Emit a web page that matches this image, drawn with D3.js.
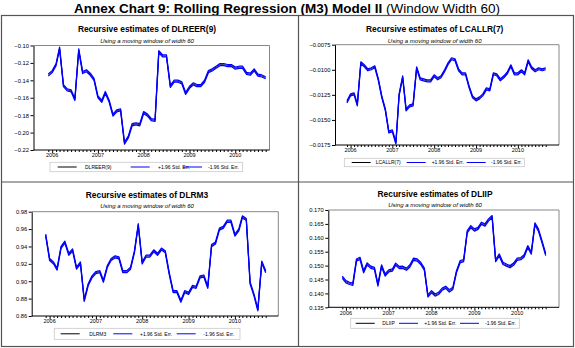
<!DOCTYPE html>
<html>
<head>
<meta charset="utf-8">
<script src="https://cdn.jsdelivr.net/npm/d3@7"></script>
<style>
  html, body { margin: 0; padding: 0; background: #fff; }
  svg { display: block; font-family: "Liberation Sans", Arial, sans-serif; }
</style>
</head>
<body>
<svg id="chart" width="575" height="348"></svg>
<script>
// monthly observations, 2005M12 .. 2010M09
const firstMonth = new Date(2005, 11, 1)
const lastMonth = new Date(2010, 8, 1)
const yearLabels = ['2006', '2007', '2008', '2009', '2010']
const legendLabels = ['+1.96 Std. Err.', '-1.96 Std. Err.']

const dlreer = [-0.134, -0.130, -0.122, -0.103, -0.146, -0.151, -0.152, -0.162, -0.105, -0.131,
  -0.129, -0.133, -0.139, -0.159, -0.164, -0.154, -0.164, -0.180, -0.175, -0.174,
  -0.212, -0.205, -0.191, -0.190, -0.191, -0.177, -0.180, -0.185, -0.186, -0.107,
  -0.112, -0.112, -0.147, -0.141, -0.141, -0.143, -0.155, -0.148, -0.144, -0.146,
  -0.146, -0.141, -0.130, -0.128, -0.125, -0.122, -0.122, -0.123, -0.123, -0.126,
  -0.125, -0.125, -0.132, -0.133, -0.128, -0.134, -0.135, -0.137]

const lcallr = [-0.0132, -0.0125, -0.0124, -0.0135, -0.0093, -0.0096, -0.0100, -0.0099, -0.0097, -0.0110,
  -0.0127, -0.0140, -0.0162, -0.0161, -0.0173, -0.0125, -0.0107, -0.0140, -0.0136, -0.0135,
  -0.0098, -0.0109, -0.0110, -0.0111, -0.0111, -0.0106, -0.0109, -0.0107, -0.0101, -0.0094,
  -0.0089, -0.0090, -0.0100, -0.0104, -0.0104, -0.0117, -0.0127, -0.0130, -0.0128, -0.0125,
  -0.0119, -0.0120, -0.0104, -0.0105, -0.0110, -0.0107, -0.0103, -0.0096, -0.0104, -0.0104,
  -0.0101, -0.0104, -0.0091, -0.0098, -0.0101, -0.0099, -0.0100, -0.0099]

const dlrm3 = [0.953, 0.925, 0.921, 0.914, 0.939, 0.945, 0.931, 0.936, 0.915, 0.921,
  0.878, 0.896, 0.905, 0.910, 0.911, 0.900, 0.917, 0.925, 0.928, 0.927,
  0.911, 0.911, 0.915, 0.934, 0.965, 0.921, 0.929, 0.929, 0.935, 0.931,
  0.937, 0.934, 0.909, 0.888, 0.888, 0.877, 0.888, 0.886, 0.894, 0.893,
  0.905, 0.906, 0.893, 0.941, 0.944, 0.960, 0.962, 0.969, 0.969, 0.953,
  0.959, 0.974, 0.971, 0.898, 0.884, 0.867, 0.922, 0.911]

const dliip = [0.1458, 0.1442, 0.1436, 0.1433, 0.1520, 0.1526, 0.1478, 0.1506, 0.1494, 0.1490,
  0.1430, 0.1499, 0.1466, 0.1481, 0.1484, 0.1505, 0.1493, 0.1494, 0.1487, 0.1499,
  0.1523, 0.1520, 0.1508, 0.1487, 0.1391, 0.1406, 0.1394, 0.1400, 0.1415, 0.1422,
  0.1409, 0.1418, 0.1478, 0.1514, 0.1518, 0.1622, 0.1640, 0.1628, 0.1634, 0.1652,
  0.1646, 0.1664, 0.1676, 0.1518, 0.1538, 0.1508, 0.1502, 0.1496, 0.1505, 0.1523,
  0.1525, 0.1535, 0.1568, 0.1545, 0.1650, 0.1628, 0.1585, 0.1540]

// standard errors of the rolling estimates (bands are +/- 1.96 se)
const seDlreer = 0.0006
const seLcallr = 0.00005
const seDlrm3 = 0.0006
const seDliip = 0.0002

const months = d3.timeMonth.range(firstMonth, d3.timeMonth.offset(lastMonth, 1))

const panels = [
  {
    name: 'DLREER(9)', values: dlreer, se: seDlreer,
    yDomain: [-0.22, -0.10], yStep: 0.02, fmt: '.2f',
    frame: { l: 33.5, r: 269.5, t: 45.5, b: 150 }, xRange: [48.3, 265.7],
    titleX: 147, titleY: 32, subY: 42.5,
    legend: { x: 50, y: 162.3, w: 192.7, h: 9.4, items: [57.7, 85, 130.7, 158, 183, 208] },
  },
  {
    name: 'LCALLR(7)', values: lcallr, se: seLcallr,
    yDomain: [-0.0175, -0.0075], yStep: 0.0025, fmt: '.4f',
    frame: { l: 335, r: 559, t: 44.7, b: 145 }, xRange: [347, 545.7],
    titleX: 434.7, titleY: 32, subY: 42.5,
    legend: { x: 344.3, y: 158.3, w: 180, h: 8.4, items: [351.7, 375.7, 406.7, 431.7, 466.7, 491] },
  },
  {
    name: 'DLRM3', values: dlrm3, se: seDlrm3,
    yDomain: [0.86, 0.98], yStep: 0.02, fmt: '.2f',
    frame: { l: 31.7, r: 278.3, t: 211.7, b: 316 }, xRange: [45.7, 265.7],
    titleX: 147, titleY: 197.5, subY: 207.5,
    legend: { x: 54.3, y: 328.3, w: 185.7, h: 11, items: [60.7, 89.3, 113.3, 140, 176.7, 203.3] },
  },
  {
    name: 'DLIIP', values: dliip, se: seDliip,
    yDomain: [0.135, 0.170], yStep: 0.005, fmt: '.3f',
    frame: { l: 328.3, r: 559, t: 210, b: 307.3 }, xRange: [342.3, 545.7],
    titleX: 435, titleY: 197, subY: 206.5,
    legend: { x: 350.7, y: 318.3, w: 168.6, h: 10, items: [355.7, 382.3, 399, 424.3, 460, 485] },
  },
]

const svg = d3.select('#chart')

// main title
const title = svg.append('text')
  .attr('x', 287)
  .attr('y', 12.5)
  .attr('text-anchor', 'middle')
  .attr('font-size', 13.5)
title.append('tspan').attr('font-weight', 'bold').text('Annex Chart 9: Rolling Regression (M3) Model II')
title.append('tspan').text(' (Window Width 60)')

// outer box and dividers
const gridColor = '#555'
svg.append('rect')
  .attr('x', 1.5).attr('y', 15.5).attr('width', 572).attr('height', 331)
  .attr('fill', 'none').attr('stroke', gridColor).attr('stroke-width', 1.2)
svg.append('line')
  .attr('x1', 298.5).attr('x2', 298.5).attr('y1', 15.5).attr('y2', 346.5)
  .attr('stroke', gridColor).attr('stroke-width', 1.2)
svg.append('line')
  .attr('x1', 1.5).attr('x2', 573.5).attr('y1', 182).attr('y2', 182)
  .attr('stroke', gridColor).attr('stroke-width', 1.2)

const blue = '#0000ff'

panels.forEach((p) => {
  const { frame } = p
  const g = svg.append('g')

  const x = d3.scaleTime().domain([firstMonth, lastMonth]).range(p.xRange)
  const y = d3.scaleLinear().domain(p.yDomain).range([frame.b, frame.t])

  g.append('text')
    .attr('x', p.titleX).attr('y', p.titleY)
    .attr('text-anchor', 'middle')
    .attr('font-size', 8.4).attr('font-weight', 'bold')
    .text(`Recursive estimates of ${p.name}`)
  g.append('text')
    .attr('x', p.titleX).attr('y', p.subY)
    .attr('text-anchor', 'middle')
    .attr('font-size', 6).attr('font-style', 'italic')
    .text('Using a moving window of width 60')

  // top and right frame
  g.append('path')
    .attr('d', `M${frame.l},${frame.t}H${frame.r}V${frame.b}`)
    .attr('fill', 'none').attr('stroke', '#888').attr('stroke-width', 1)

  const yTicks = d3.range(p.yDomain[0], p.yDomain[1] + p.yStep / 2, p.yStep)
  const yAxis = g.append('g')
    .attr('transform', `translate(${frame.l},0)`)
    .call(d3.axisLeft(y).tickValues(yTicks).tickSize(3).tickSizeOuter(0).tickPadding(1.5).tickFormat(d3.format(p.fmt)))
  yAxis.select('.domain').attr('stroke', '#000')
  yAxis.selectAll('text').attr('font-size', 5.8).attr('font-family', null).attr('fill', '#000')

  const xAxis = g.append('g')
    .attr('transform', `translate(0,${frame.b})`)
    .call(d3.axisBottom(x).tickValues(months).tickSize(2).tickFormat(''))
  xAxis.select('.domain').remove()
  xAxis.selectAll('.tick line')
    .attr('y2', (d) => d.getMonth() === 0 ? 3.5 : 2)
  g.append('line')
    .attr('x1', frame.l).attr('x2', frame.r)
    .attr('y1', frame.b).attr('y2', frame.b)
    .attr('stroke', '#000')

  g.selectAll('.year-label')
    .data(yearLabels)
    .enter()
    .append('text')
    .attr('class', 'year-label')
    .attr('x', (d) => x(new Date(+d, 0, 1)))
    .attr('y', frame.b + 7.3)
    .attr('text-anchor', 'middle')
    .attr('font-size', 5.5)
    .text((d) => d)

  const line = d3.line()
    .x((d, i) => x(months[i]))
    .y((d) => y(d))

  const upper = p.values.map((v) => v + 1.96 * p.se)
  const lower = p.values.map((v) => v - 1.96 * p.se)

  g.append('path').datum(p.values)
    .attr('d', line).attr('fill', 'none').attr('stroke', '#000').attr('stroke-width', 0.8)
  ;[upper, lower].forEach((band) => {
    g.append('path').datum(band)
      .attr('d', line).attr('fill', 'none').attr('stroke', blue).attr('stroke-width', 1.25)
      .attr('stroke-linejoin', 'round')
  })

  // legend
  const lg = p.legend
  const ly = lg.y + lg.h / 2
  const legend = g.append('g')
  legend.append('rect')
    .attr('x', lg.x).attr('y', lg.y).attr('width', lg.w).attr('height', lg.h)
    .attr('fill', '#fff').attr('stroke', '#c8c8c8').attr('stroke-width', 0.8)
  const entries = [
    { label: p.name, color: '#000' },
    { label: legendLabels[0], color: blue },
    { label: legendLabels[1], color: blue },
  ]
  entries.forEach((e, i) => {
    const lx = lg.items[i * 2]
    legend.append('line')
      .attr('x1', lx).attr('x2', lx + 19).attr('y1', ly).attr('y2', ly)
      .attr('stroke', e.color).attr('stroke-width', 1)
    legend.append('text')
      .attr('x', lg.items[i * 2 + 1]).attr('y', ly + 1.7)
      .attr('font-size', 5)
      .text(e.label)
  })
})
</script>
</body>
</html>
